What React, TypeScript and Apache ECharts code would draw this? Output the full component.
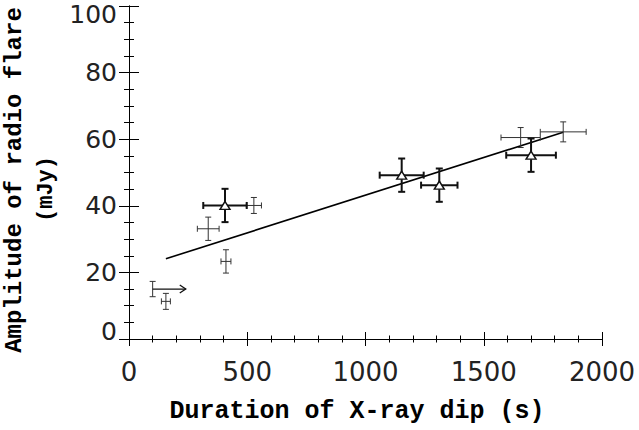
import React, { useEffect, useRef } from "react";
import * as echarts from "echarts";

// Triangle-marked points (bold error bars)
const triX = [406, 1153, 1312, 1700];
const triY = [40.1, 49.2, 46.2, 55.2];
const triXErr = [92, 93, 77, 105];
const triYErr = [5.0, 5.0, 5.0, 5.0];

// Plain points (thin error bars)
const plainX = [156, 410, 528, 335, 1836, 1656];
const plainY = [11.3, 23.3, 40.1, 33.1, 62.2, 60.5];
const plainXErr = [19, 21, 32, 46, 97, 83];
const plainYErr = [2.4, 3.5, 2.4, 3.5, 3.0, 3.0];

// Lower-limit point with arrow
const limitX = [100];
const limitY = [15];
const limitYErr = [2.3];
const limitArrowTo = [240];

// Fitted line end points
const fitX = [156, 1836];
const fitY = [24.1, 62.1];

const xTicks = [0, 500, 1000, 1500, 2000];
const yTicks = [0, 20, 40, 60, 80, 100];

const NUM_FONT = '"DejaVu Sans", sans-serif';
const TITLE_FONT = '"Liberation Mono", "DejaVu Sans Mono", monospace';

function errRender(thick: boolean) {
  return (params: any, api: any) => {
    const x = api.value(0);
    const y = api.value(1);
    const xe = api.value(2);
    const ye = api.value(3);
    const c = api.coord([x, y]);
    const t = api.coord([x, y + ye]);
    const b = api.coord([x, y - ye]);
    const cap = thick ? 3.5 : 3;
    const style = { stroke: thick ? "#111" : "#333", lineWidth: thick ? 2 : 1, fill: "none" };
    const children: any[] = [];
    children.push({ type: "line", shape: { x1: c[0], y1: t[1], x2: c[0], y2: b[1] }, style });
    children.push({ type: "line", shape: { x1: c[0] - cap, y1: t[1], x2: c[0] + cap, y2: t[1] }, style });
    children.push({ type: "line", shape: { x1: c[0] - cap, y1: b[1], x2: c[0] + cap, y2: b[1] }, style });
    if (xe > 0) {
      const l = api.coord([x - xe, y]);
      const r = api.coord([x + xe, y]);
      children.push({ type: "line", shape: { x1: l[0], y1: c[1], x2: r[0], y2: c[1] }, style });
      children.push({ type: "line", shape: { x1: l[0], y1: c[1] - cap, x2: l[0], y2: c[1] + cap }, style });
      children.push({ type: "line", shape: { x1: r[0], y1: c[1] - cap, x2: r[0], y2: c[1] + cap }, style });
    }
    return { type: "group", children };
  };
}

function arrowRender(params: any, api: any) {
  const x = api.value(0);
  const y = api.value(1);
  const x2 = api.value(2);
  const a = api.coord([x, y]);
  const b = api.coord([x2, y]);
  const style = { stroke: "#111", lineWidth: 1.3, fill: "none" };
  return {
    type: "group",
    children: [
      { type: "line", shape: { x1: a[0], y1: a[1], x2: b[0], y2: b[1] }, style },
      {
        type: "polyline",
        shape: { points: [[b[0] - 6, b[1] - 4], [b[0], b[1]], [b[0] - 6, b[1] + 4]] },
        style,
      },
    ],
  };
}

export default function App() {
  const ref = useRef<HTMLDivElement>(null);
  useEffect(() => {
    if (!ref.current) return;
    const chart = echarts.init(ref.current, null, { renderer: "svg" });

    const axisCommon = {
      axisLine: { show: true, lineStyle: { color: "#000", width: 1 } },
      splitLine: { show: false },
    };

    const xBase = {
      type: "value" as const,
      min: xTicks[0],
      max: xTicks[xTicks.length - 1],
      interval: xTicks[1] - xTicks[0],
      ...axisCommon,
      axisTick: { show: true, inside: true, length: 7, lineStyle: { color: "#000" } },
      minorTick: { show: true, splitNumber: 5, length: 3.5, lineStyle: { color: "#000" } },
    };
    const yBase = {
      type: "value" as const,
      min: yTicks[0],
      max: yTicks[yTicks.length - 1],
      interval: yTicks[1] - yTicks[0],
      ...axisCommon,
      axisTick: { show: true, inside: true, length: 10, lineStyle: { color: "#000" } },
      minorTick: { show: true, splitNumber: 4, length: 5, lineStyle: { color: "#000" } },
    };

    const yMin = yTicks[0];
    const yMax = yTicks[yTicks.length - 1];

    chart.setOption({
      animation: false,
      backgroundColor: "#fff",
      grid: { left: 129, top: 6, width: 473, height: 333, containLabel: false },
      xAxis: [
        {
          ...xBase,
          position: "bottom",
          axisLabel: {
            show: true,
            fontSize: 26,
            fontFamily: NUM_FONT,
            color: "#222",
            margin: 20,
            formatter: (v: number) => String(v),
          },
        },
        { ...xBase, position: "top", axisLabel: { show: false } },
      ],
      yAxis: [
        {
          ...yBase,
          position: "left",
          axisLabel: {
            show: true,
            fontSize: 25,
            fontFamily: NUM_FONT,
            color: "#222",
            margin: 12,
            formatter: (v: number) =>
              v === yMax ? `{top|${v}}` : v === yMin ? `{bot|${v}}` : `{n|${v}}`,
            rich: {
              top: { fontSize: 25, fontFamily: NUM_FONT, color: "#222", padding: [16, 0, 0, 0] },
              bot: { fontSize: 25, fontFamily: NUM_FONT, color: "#222", padding: [0, 0, 15, 0] },
              n: { fontSize: 25, fontFamily: NUM_FONT, color: "#222" },
            },
          },
        },
        { ...yBase, position: "right", axisLabel: { show: false } },
      ],
      series: [
        {
          type: "line",
          data: fitX.map((x, i) => [x, fitY[i]]),
          showSymbol: false,
          symbol: "none",
          lineStyle: { color: "#000", width: 1.6 },
          z: 3,
        },
        {
          type: "custom",
          renderItem: errRender(false),
          data: plainX.map((x, i) => [x, plainY[i], plainXErr[i], plainYErr[i]]),
          encode: { x: 0, y: 1 },
          z: 4,
        },
        {
          type: "custom",
          renderItem: errRender(true),
          data: triX.map((x, i) => [x, triY[i], triXErr[i], triYErr[i]]),
          encode: { x: 0, y: 1 },
          z: 4,
        },
        {
          type: "custom",
          renderItem: errRender(false),
          data: limitX.map((x, i) => [x, limitY[i], 0, limitYErr[i]]),
          encode: { x: 0, y: 1 },
          z: 4,
        },
        {
          type: "custom",
          renderItem: arrowRender,
          data: limitX.map((x, i) => [x, limitY[i], limitArrowTo[i]]),
          encode: { x: [0, 2], y: 1 },
          z: 4,
        },
        {
          type: "scatter",
          data: triX.map((x, i) => [x, triY[i]]),
          symbol: "triangle",
          symbolSize: [10, 8],
          itemStyle: { color: "#fff", borderColor: "#111", borderWidth: 1.4, opacity: 1 },
          z: 5,
        },
      ],
      graphic: [
        {
          type: "text",
          x: 357,
          y: 411,
          style: {
            text: "Duration of X-ray dip (s)",
            fontFamily: TITLE_FONT,
            fontWeight: "bold",
            fontSize: 25,
            fill: "#000",
            align: "center",
            verticalAlign: "middle",
          },
        },
        {
          type: "text",
          x: 14,
          y: 180,
          rotation: Math.PI / 2,
          style: {
            text: "Amplitude of radio flare",
            fontFamily: TITLE_FONT,
            fontWeight: "bold",
            fontSize: 24,
            fill: "#000",
            align: "center",
            verticalAlign: "middle",
          },
        },
        {
          type: "text",
          x: 46,
          y: 189,
          rotation: Math.PI / 2,
          style: {
            text: "(mJy)",
            fontFamily: TITLE_FONT,
            fontWeight: "bold",
            fontSize: 22,
            fill: "#000",
            align: "center",
            verticalAlign: "middle",
          },
        },
      ],
    });
    return () => chart.dispose();
  }, []);
  return (
    <div
      ref={ref}
      style={{ position: "fixed", left: 0, top: 0, width: 639, height: 430, background: "#fff" }}
    />
  );
}
